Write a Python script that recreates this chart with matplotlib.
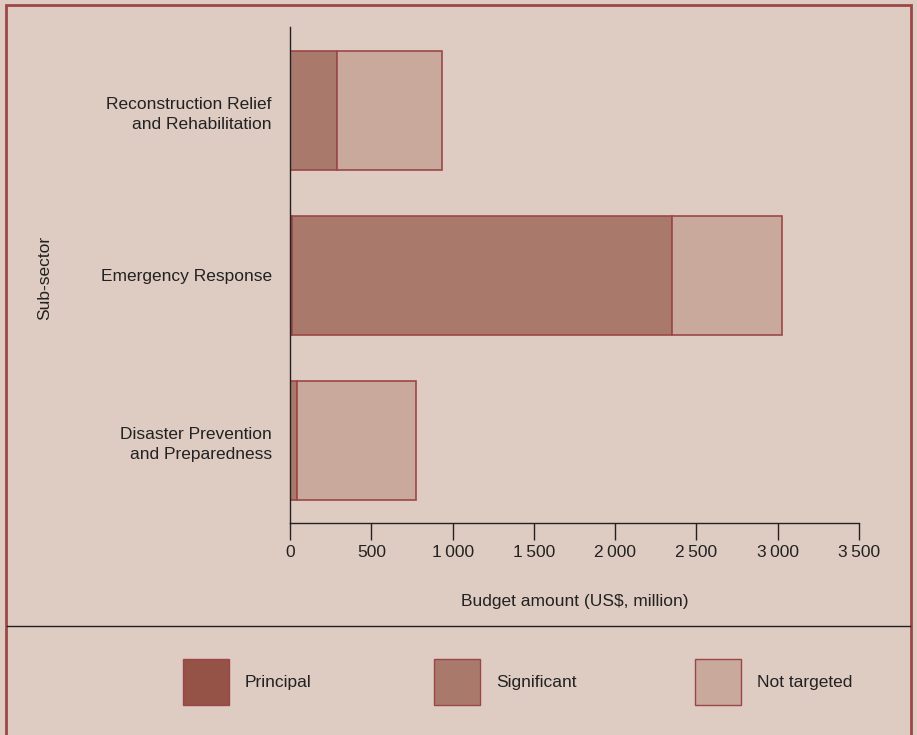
import matplotlib
matplotlib.use("Agg")
import matplotlib.pyplot as plt
from matplotlib.patches import Rectangle
from matplotlib.lines import Line2D
from matplotlib.ticker import FuncFormatter

# data (US$ million)
subsectors = ["Disaster Prevention\nand Preparedness",
              "Emergency Response",
              "Reconstruction Relief\nand Rehabilitation"]
principal = [0, 10, 0]
significant = [40, 2340, 290]
not_targeted = [733, 675, 642]
series_names = ["Principal", "Significant", "Not targeted"]

bg = "#decbc1"
colors = ["#955246", "#a97a6b", "#c9a99c"]
edge = "#9b4747"
txt = "#222222"

plt.rcParams['font.family'] = ['Liberation Sans Narrow', 'Liberation Sans', 'DejaVu Sans']

fig = plt.figure(figsize=(9.17, 7.35), dpi=100, facecolor=bg)
ax = fig.add_axes([0.3163, 0.2884, 0.6205, 0.6742])
ax.set_facecolor(bg)

y = list(range(len(subsectors)))
left = [0] * len(y)
for vals, col in zip([principal, significant, not_targeted], colors):
    ax.barh(y, vals, left=left, height=0.72, color=col, edgecolor=edge, linewidth=1.2)
    left = [a + b for a, b in zip(left, vals)]

ax.set_xlim(0, 3500)
ax.set_ylim(-0.5, 2.5)
ax.set_xticks(range(0, 3501, 500))
ax.xaxis.set_major_formatter(FuncFormatter(lambda v, p: f"{int(v):,}".replace(",", "\u2009")))
ax.set_yticks(y)
ax.set_yticklabels(subsectors, ha="right", multialignment="right", linespacing=1.45)
ax.tick_params(axis="y", length=0, pad=13, labelsize=12.5, labelcolor=txt)
ax.tick_params(axis="x", length=12, width=1, pad=4, labelsize=12.5, labelcolor=txt, color=txt)
for s in ["top", "right"]:
    ax.spines[s].set_visible(False)
for s in ["left", "bottom"]:
    ax.spines[s].set_color(txt)
    ax.spines[s].set_linewidth(1)

ax.set_xlabel("Budget amount (US$, million)", fontsize=12.5, color=txt, labelpad=24)
fig.text(45 / 917, 1 - 278 / 735, "Sub-sector", rotation=90, ha="center", va="center",
         fontsize=12.5, color=txt)

# outer frame and legend separator
fig.patches.append(Rectangle((6 / 917, -0.01), 905 / 917, 1 - 5 / 735 + 0.01,
                             transform=fig.transFigure, fill=False, edgecolor=edge, linewidth=2))
fig.lines.append(Line2D([7 / 917, 910 / 917], [1 - 626 / 735] * 2, transform=fig.transFigure,
                        color=txt, linewidth=1))

# legend
leg_x = [183, 434, 695]
for x0, name, col in zip(leg_x, series_names, colors):
    fig.patches.append(Rectangle((x0 / 917, 1 - 705 / 735), 46 / 917, 46 / 735,
                                 transform=fig.transFigure, facecolor=col, edgecolor=edge,
                                 linewidth=1))
    fig.text((x0 + 62) / 917, 1 - 682 / 735, name, ha="left", va="center",
             fontsize=12.5, color=txt)

fig.savefig("out.png", dpi=100, facecolor=bg)
